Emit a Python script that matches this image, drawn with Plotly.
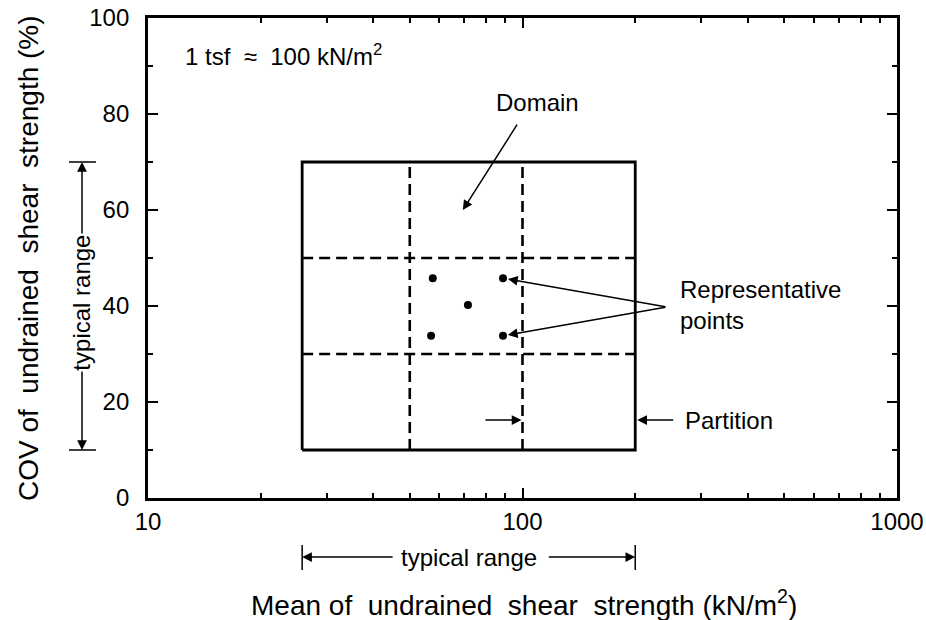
import math
import plotly.graph_objects as go

# ---------------- data ----------------
x_major_ticks = [10, 100, 1000]
x_major_text = ["10", "100", "1000"]
x_minor_ticks = [20, 30, 40, 50, 60, 70, 80, 90, 200, 300, 400, 500, 600, 700, 800, 900]
y_major_ticks = [0, 20, 40, 60, 80, 100]
y_minor_ticks = [10, 30, 50, 70, 90]

domain_x = [25.8, 200, 200, 25.8, 25.8]
domain_y = [10, 10, 70, 70, 10]

partition_x_vals = [50, 100]     # dashed vertical partition lines
partition_y_vals = [30, 50]      # dashed horizontal partition lines

points_x = [57.6, 88.7, 71.5, 57.0, 88.7]
points_y = [45.8, 45.8, 40.2, 33.8, 33.8]

typical_x_range = [25.8, 200]
typical_y_range = [10, 70]

FONT = "Liberation Sans, Arial, Helvetica, sans-serif"

# ---------------- build ----------------
x_lo, x_hi = domain_x[0], domain_x[1]
y_lo, y_hi = domain_y[0], domain_y[2]

dash_x, dash_y = [], []
for v in partition_x_vals:
    dash_x += [v, v, None]
    dash_y += [y_lo, y_hi, None]
for v in partition_y_vals:
    dash_x += [x_lo, x_hi, None]
    dash_y += [v, v, None]

fig = go.Figure()
fig.add_trace(go.Scatter(x=dash_x, y=dash_y, mode="lines",
                         line=dict(color="black", width=2.6, dash="11px,6px"),
                         showlegend=False, hoverinfo="skip"))
fig.add_trace(go.Scatter(x=domain_x, y=domain_y, mode="lines",
                         line=dict(color="black", width=2.8),
                         showlegend=False, hoverinfo="skip"))
fig.add_trace(go.Scatter(x=points_x, y=points_y, mode="markers",
                         marker=dict(color="black", size=8),
                         showlegend=False))

L = math.log10


def px(v):
    return (L(v) - 1) / 2.0


ann = []
arrow = dict(showarrow=True, arrowhead=2, arrowsize=1.3, arrowwidth=1.5,
             arrowcolor="black", text="")

ann.append(dict(x=L(12.4), y=92.3, xref="x", yref="y", xanchor="left",
                yanchor="middle", showarrow=False,
                text="1 tsf  \u2248  100 kN/m<sup>2</sup>",
                font=dict(size=24)))
ann.append(dict(x=L(109.4), y=82.3, xref="x", yref="y", showarrow=False,
                xanchor="center", yanchor="middle",
                text="Domain", font=dict(size=24)))
ann.append(dict(arrow, x=L(69.3), y=60, xref="x", yref="y",
                ax=L(97.3), ay=78.1, axref="x", ayref="y"))
ann.append(dict(x=L(260), y=40.2, xref="x", yref="y", xanchor="left",
                yanchor="middle", align="left", showarrow=False,
                text="Representative<br>points", font=dict(size=24)))
for i in (1, 4):
    ann.append(dict(arrow, x=L(points_x[i]), y=points_y[i], xref="x", yref="y",
                    ax=L(243), ay=39.8, axref="x", ayref="y", standoff=5))
ann.append(dict(x=L(268), y=16.25, xref="x", yref="y", xanchor="left",
                yanchor="middle", showarrow=False, text="Partition",
                font=dict(size=24)))
ann.append(dict(arrow, x=L(x_hi), y=16.25, xref="x", yref="y",
                ax=L(255), ay=16.25, axref="x", ayref="y", standoff=2))
ann.append(dict(arrow, x=L(partition_x_vals[1]), y=16.25, xref="x", yref="y",
                ax=L(78.9), ay=16.25, axref="x", ayref="y", standoff=1))

# y typical range (left of axis)
xp_y = (82 - 148) / 749.0
ann.append(dict(arrow, x=xp_y, y=typical_y_range[1], xref="paper", yref="y",
                ax=0, ay=73, axref="pixel", ayref="pixel"))
ann.append(dict(arrow, x=xp_y, y=typical_y_range[0], xref="paper", yref="y",
                ax=0, ay=-80, axref="pixel", ayref="pixel"))
ann.append(dict(x=xp_y, y=40.7, xref="paper", yref="y", showarrow=False,
                xanchor="center", yanchor="middle",
                text="typical range", textangle=-90, font=dict(size=24)))

# x typical range (below axis)
yp_x = (498 - 557) / 480.0
ann.append(dict(arrow, x=L(typical_x_range[0]), y=yp_x, xref="x", yref="paper",
                ax=92, ay=0, axref="pixel", ayref="pixel"))
ann.append(dict(arrow, x=L(typical_x_range[1]), y=yp_x, xref="x", yref="paper",
                ax=-88, ay=0, axref="pixel", ayref="pixel"))
ann.append(dict(x=(L(typical_x_range[0]) + L(typical_x_range[1])) / 2, y=yp_x,
                xref="x", yref="paper", showarrow=False,
                xanchor="center", yanchor="middle",
                text="typical range", font=dict(size=24)))

# axis titles
ann.append(dict(x=0.502, y=(498 - 603) / 480.0, xref="paper", yref="paper",
                showarrow=False, xanchor="center", yanchor="middle",
                text="Mean of  undrained  shear  strength (kN/m<sup>2</sup>)",
                font=dict(size=28)))
ann.append(dict(x=(28 - 148) / 749.0, y=0.5, xref="paper", yref="paper",
                showarrow=False, textangle=-90, xanchor="center",
                yanchor="middle",
                text="COV of  undrained  shear  strength (%)",
                font=dict(size=28)))

shapes = []
for v in typical_y_range:
    shapes.append(dict(type="line", xref="paper", yref="y",
                       x0=(69 - 148) / 749.0, x1=(96 - 148) / 749.0, y0=v, y1=v,
                       line=dict(color="black", width=1.5)))
for v in typical_x_range:
    shapes.append(dict(type="line", xref="paper", yref="paper",
                       x0=px(v), x1=px(v), y0=(498 - 545) / 480.0,
                       y1=(498 - 570) / 480.0,
                       line=dict(color="black", width=1.5)))

fig.update_layout(
    width=926, height=620,
    margin=dict(l=148, r=29, t=18, b=122, autoexpand=False),
    paper_bgcolor="white", plot_bgcolor="white",
    font=dict(family=FONT, color="black", size=24),
    annotations=ann, shapes=shapes, showlegend=False,
)
fig.update_xaxes(type="log", range=[1, 3], tickvals=x_major_ticks,
                 ticktext=x_major_text, ticks="inside", ticklen=10, tickwidth=2,
                 tickcolor="black", showline=True, linecolor="black",
                 linewidth=2.8, mirror="allticks", showgrid=False,
                 zeroline=False, tickfont=dict(size=24), ticklabelstandoff=0,
                 automargin=False,
                 minor=dict(tickvals=x_minor_ticks, ticks="inside", ticklen=5,
                            tickwidth=2, tickcolor="black", showgrid=False))
fig.update_yaxes(range=[0, 100], tickvals=y_major_ticks, ticks="inside",
                 ticklen=10, tickwidth=2, tickcolor="black", showline=True,
                 linecolor="black", linewidth=2.8, mirror="allticks",
                 showgrid=False, zeroline=False, tickfont=dict(size=24),
                 ticklabelstandoff=11, automargin=False,
                 minor=dict(tickvals=y_minor_ticks, ticks="inside", ticklen=5,
                            tickwidth=2, tickcolor="black", showgrid=False))

fig.write_html("out.html",
               config={"displayModeBar": False},
               post_script="document.body.style.margin='0';"
                           "document.body.style.overflow='hidden';")
